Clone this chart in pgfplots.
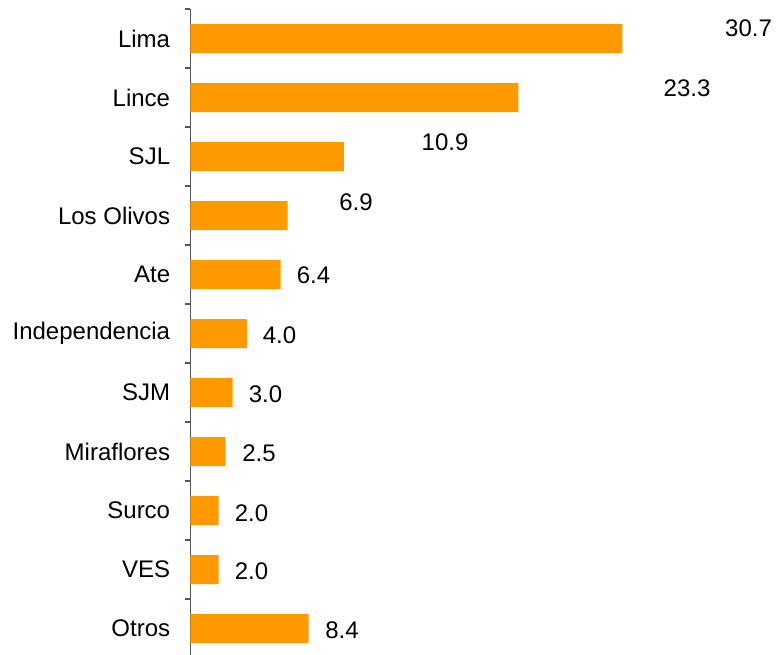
\documentclass[border=0pt]{standalone}
\usepackage{fontspec}
\setmainfont{Liberation Sans}
\usepackage{pgfplots}
\pgfplotsset{compat=1.18}
\definecolor{barorange}{RGB}{255,153,0}
\definecolor{axgray}{RGB}{85,85,85}
\newcommand{\lblfont}{\fontsize{12bp}{14.4bp}\selectfont}
\begin{document}
\begin{tikzpicture}
\begin{axis}[
  at={(0,0)}, anchor=south west,
  scale only axis,
  width=281.4bp, height=324.5bp,
  xmin=0, xmax=40,
  ymin=-0.5, ymax=10.5,
  y dir=reverse,
  axis x line=none,
  axis y line*=left,
  axis line style={draw=axgray, line width=0.75bp},
  ytick={0,...,10},
  yticklabels={Lima,Lince,SJL,Los Olivos,Ate,Independencia,SJM,Miraflores,Surco,VES,Otros},
  major tick length=0pt,
  minor ytick={-0.5,0.5,...,10.5},
  minor tick length=2.75bp,
  tick align=outside,
  minor tick style={draw=axgray, line width=0.75bp},
  yticklabel style={font=\lblfont, inner sep=0pt, xshift=-10bp, anchor=east},
  clip=false,
]
\addplot[xbar, bar width=14.5bp, bar shift=0pt, fill=barorange, draw=none] coordinates {
  (30.7,0) (23.3,1) (10.9,2) (6.9,3) (6.4,4) (4.0,5) (3.0,6) (2.5,7) (2.0,8) (2.0,9) (8.4,10)
};
\addplot[only marks, mark=none, nodes near coords, point meta=explicit symbolic,
  nodes near coords style={anchor=center, inner sep=0pt, font=\lblfont}]
  table[x=x, y=y, meta=lab] {
x      y       lab
39.66  -0.178  30.7
35.29  0.839   23.3
18.09  1.754   10.9
11.76  2.771   6.9
8.74   4.017   6.4
6.33   5.025   4.0
5.33   6.025   3.0
4.87   7.025   2.5
4.34   8.05    2.0
4.34   9.03    2.0
10.77  10.03   8.4
};
\end{axis}
\pgfresetboundingbox
\path[use as bounding box] (-95.25bp,1.5bp) rectangle (292.75bp,329bp);
\end{tikzpicture}
\end{document}
